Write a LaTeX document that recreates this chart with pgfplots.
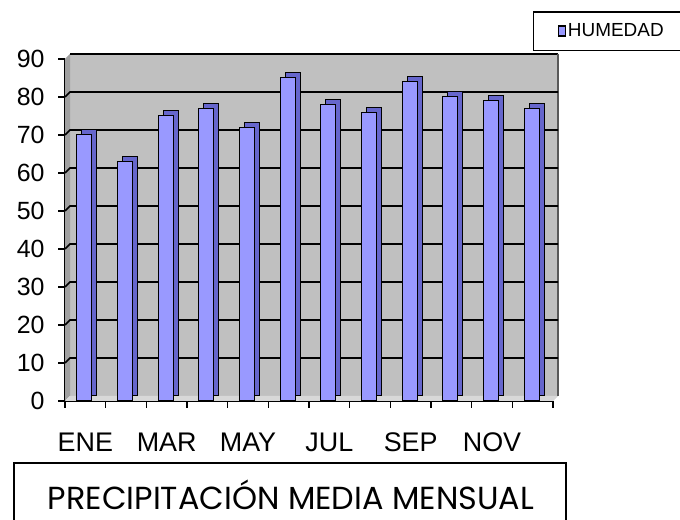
\documentclass[border=0pt]{standalone}
\usepackage{pgfplots}
\pgfplotsset{compat=1.18}
\usepackage{fontspec}
\setmainfont{Liberation Sans}
\newfontfamily\titlefont{Poppins}
\definecolor{barfront}{HTML}{9999FF}
\definecolor{barside}{HTML}{6666CC}
\definecolor{wall}{HTML}{C0C0C0}
\definecolor{sidewall}{HTML}{A0A0A0}
\definecolor{floorc}{HTML}{D8D8D8}

\begin{document}
\begin{tikzpicture}[x=1bp,y=1bp]
\path[use as bounding box] (0,0) rectangle (680,520);
\begin{axis}[
  at={(65bp,119bp)}, anchor=south west,
  scale only axis, width=488bp, height=342bp,
  xmin=-0.5, xmax=11.5, ymin=0, ymax=90,
  axis lines*=left,
  axis line style={line width=1.6bp},
  x axis line style={line width=2.6bp},
  tick align=outside,
  tick style={black, line width=1.2bp},
  major tick length=7bp,
  xtick={-0.5,0.5,...,11.5},
  xticklabels={},
  extra x ticks={0,2,4,6,8,10},
  extra x tick labels={ENE,MAR,MAY,JUL,SEP,NOV},
  extra x tick style={major tick length=0bp, tick style={draw=none}},
  xticklabel style={font=\fontsize{27}{29}\selectfont, yshift=-28bp},
  ytick={0,10,...,90},
  yticklabel style={font=\fontsize{25}{27}\selectfont, xshift=-10bp},
  /pgf/number format/assume math mode=true,
  clip=false,
  legend style={at={(0.959,1.140)}, anchor=north west, draw=black, line width=1.4bp,
    font=\fontsize{19}{21}\selectfont, inner xsep=24bp, inner ysep=10bp},
  legend image code/.code={\draw[fill=barfront, draw=black, line width=1.3bp] (0bp,-5bp) rectangle (7bp,5bp);},
]
% back wall, floor and side wall (decoration)
\fill[wall] ([xshift=5bp,yshift=5bp]axis cs:-0.5,0) rectangle ([xshift=5bp,yshift=5bp]axis cs:11.5,90);
\fill[sidewall] (axis cs:-0.5,0) -- ([xshift=5bp,yshift=5bp]axis cs:-0.5,0) -- ([xshift=5bp,yshift=5bp]axis cs:-0.5,90) -- (axis cs:-0.5,90) -- cycle;
\fill[floorc] (axis cs:-0.5,0) -- (axis cs:11.5,0) -- ([xshift=5bp,yshift=5bp]axis cs:11.5,0) -- ([xshift=5bp,yshift=5bp]axis cs:-0.5,0) -- cycle;
\draw[black, line width=1.2bp] ([xshift=5bp,yshift=5bp]axis cs:-0.5,90) -- ([xshift=5bp,yshift=5bp]axis cs:11.5,90);
\draw[gray!70!black, line width=1.2bp] ([xshift=5bp,yshift=5bp]axis cs:11.5,90) -- ([xshift=5bp,yshift=5bp]axis cs:11.5,0);
\pgfplotsinvokeforeach{10,20,30,40,50,60,70,80}{
  \draw[black, line width=1.6bp] (axis cs:-0.5,#1) -- ([xshift=5bp,yshift=5bp]axis cs:-0.5,#1) -- ([xshift=5bp,yshift=5bp]axis cs:11.5,#1);
}
% bar depth faces
\addplot[ybar, forget plot, bar width=15bp, bar shift=4bp, yshift=5bp, fill=barside, draw=black, line width=1bp]
  coordinates {(0,70) (1,63) (2,75) (3,77) (4,72) (5,85) (6,78) (7,76) (8,84) (9,80) (10,79) (11,77)};
% bar front faces
\addplot[ybar, bar width=15bp, bar shift=-1bp, fill=barfront, draw=black, line width=1bp]
  coordinates {(0,70) (1,63) (2,75) (3,77) (4,72) (5,85) (6,78) (7,76) (8,84) (9,80) (10,79) (11,77)};
\addlegendentry{HUMEDAD}
\end{axis}
% title box
\draw[black, line width=1.2bp] (14,-2) -- (14,57) -- (566,57) -- (566,-2);
\node[font=\titlefont\fontsize{32}{34}\selectfont, inner sep=0pt] at (291,25) {PRECIPITACIÓN MEDIA MENSUAL};
\end{tikzpicture}
\end{document}
